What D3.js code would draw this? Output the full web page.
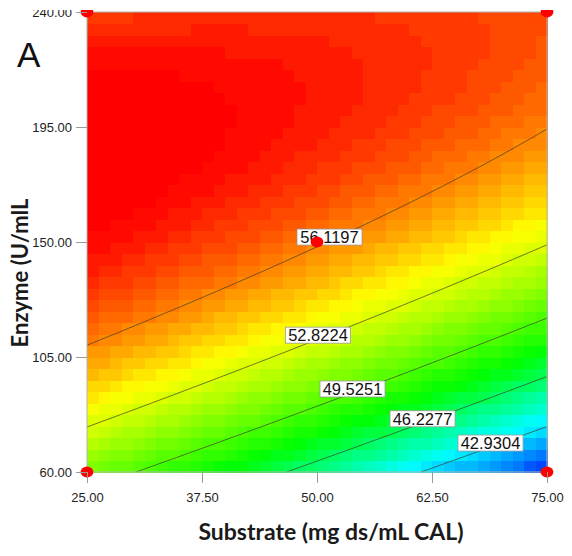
<!DOCTYPE html>
<html>
<head>
<meta charset="utf-8">
<script src="https://cdn.jsdelivr.net/npm/d3@7"></script>
<style>
  body { margin: 0; background: #fff; }
  svg { display: block; }
</style>
</head>
<body>
<svg id="chart" width="572" height="556"></svg>
<script>
// Factor ranges and axis ticks
const substrateRange = [25, 75];
const enzymeRange = [60, 240];
const substrateTicks = [25, 37.5, 50, 62.5, 75];
const enzymeTicks = [60, 105, 150, 195, 240];

// Fitted quadratic response surface, coded units (A = substrate, B = enzyme)
const modelTerms = ["Intercept", "A", "B", "AB", "A^2", "B^2"];
const modelCoefficients = [56.25, -2.84, 6.12, 2.64, -0.48, -4.62];

// Contour levels and the substrate value where each label sits
const contourLevels = [42.9304, 46.2277, 49.5251, 52.8224, 56.1197];
const contourLabelSubstrate = [68.86, 61.47, 53.86, 50.11, 51.36];

// Design points
const designSubstrate = [25, 25, 75, 75, 50];
const designEnzyme = [60, 240, 60, 240, 150];

// Colour ramp (fraction of response range -> colour), drawn in discrete steps
const rampStops = [0, 0.2, 0.42, 0.72, 0.97, 1];
const rampColors = ["#0030ff", "#00ffff", "#00ff00", "#ffff00", "#ff0000", "#ff0000"];
const rampSteps = 64;

const svg = d3.select("#chart");
const plot = { left: 87, right: 547, top: 12, bottom: 472 };

const x = d3.scaleLinear().domain(substrateRange).range([plot.left, plot.right]);
const y = d3.scaleLinear().domain(enzymeRange).range([plot.bottom, plot.top]);

const sMid = d3.mean(substrateRange), sHalf = (substrateRange[1] - substrateRange[0]) / 2;
const eMid = d3.mean(enzymeRange), eHalf = (enzymeRange[1] - enzymeRange[0]) / 2;

function predict(s, e) {
  const A = (s - sMid) / sHalf, B = (e - eMid) / eHalf;
  const t = [1, A, B, A * B, A * A, B * B];
  return d3.sum(t, (v, i) => v * modelCoefficients[i]);
}

// Fine sampling grid for contour tracing and range
const NS = 160;
const sNodes = d3.range(NS + 1).map(i => substrateRange[0] + (substrateRange[1] - substrateRange[0]) * i / NS);
const eNodes = d3.range(NS + 1).map(j => enzymeRange[0] + (enzymeRange[1] - enzymeRange[0]) * j / NS);
const nodeVals = sNodes.map(s => eNodes.map(e => predict(s, e)));
const allVals = nodeVals.flat();
const vMin = d3.min(allVals), vMax = d3.max(allVals);

const ramp = d3.scaleLinear().domain(rampStops).range(rampColors).interpolate(d3.interpolateRgb).clamp(true);
const colorOf = v => {
  const t = (v - vMin) / (vMax - vMin);
  const q = Math.min(rampSteps - 1, Math.floor(t * rampSteps));
  return ramp((q + 0.5) / rampSteps);
};

const root = svg.append("g");

// Coloured cells
const NC = 40;
const cells = [];
for (let i = 0; i < NC; i++) {
  for (let j = 0; j < NC; j++) {
    const s0 = substrateRange[0] + (substrateRange[1] - substrateRange[0]) * i / NC;
    const s1 = substrateRange[0] + (substrateRange[1] - substrateRange[0]) * (i + 1) / NC;
    const e0 = enzymeRange[0] + (enzymeRange[1] - enzymeRange[0]) * j / NC;
    const e1 = enzymeRange[0] + (enzymeRange[1] - enzymeRange[0]) * (j + 1) / NC;
    cells.push({ s0, s1, e0, e1, v: predict((s0 + s1) / 2, (e0 + e1) / 2) });
  }
}
root.append("g")
  .attr("shape-rendering", "crispEdges")
  .selectAll("rect")
  .data(cells)
  .join("rect")
  .attr("x", d => x(d.s0))
  .attr("y", d => y(d.e1))
  .attr("width", d => x(d.s1) - x(d.s0) + 0.6)
  .attr("height", d => y(d.e0) - y(d.e1) + 0.6)
  .attr("fill", d => colorOf(d.v));

// Marching squares: iso-line segments for one level
function isoSegments(level) {
  const segs = [];
  const lerp = (a, b, va, vb) => a + (b - a) * (level - va) / (vb - va);
  for (let i = 0; i < NS; i++) {
    for (let j = 0; j < NS; j++) {
      const c = [
        [sNodes[i], eNodes[j], nodeVals[i][j]],
        [sNodes[i + 1], eNodes[j], nodeVals[i + 1][j]],
        [sNodes[i + 1], eNodes[j + 1], nodeVals[i + 1][j + 1]],
        [sNodes[i], eNodes[j + 1], nodeVals[i][j + 1]]
      ];
      const pts = [];
      for (let k = 0; k < 4; k++) {
        const p = c[k], q = c[(k + 1) % 4];
        if ((p[2] - level) * (q[2] - level) < 0) {
          pts.push([lerp(p[0], q[0], p[2], q[2]), lerp(p[1], q[1], p[2], q[2])]);
        }
      }
      if (pts.length >= 2) segs.push([pts[0], pts[1]]);
      if (pts.length === 4) segs.push([pts[2], pts[3]]);
    }
  }
  return segs;
}

root.append("g")
  .selectAll("path")
  .data(contourLevels)
  .join("path")
  .attr("fill", "none")
  .attr("stroke", "#3c3c28")
  .attr("stroke-opacity", 0.7)
  .attr("stroke-width", 1)
  .attr("d", lv => isoSegments(lv).map(sg =>
    `M${x(sg[0][0]).toFixed(2)},${y(sg[0][1]).toFixed(2)}L${x(sg[1][0]).toFixed(2)},${y(sg[1][1]).toFixed(2)}`).join(""));

// Plot frame
root.append("rect")
  .attr("x", plot.left).attr("y", plot.top)
  .attr("width", plot.right - plot.left).attr("height", plot.bottom - plot.top)
  .attr("fill", "none").attr("stroke", "#b4b4b4").attr("stroke-width", 1);

// Contour labels, centred on their line
function enzymeOnLevel(s, level) {
  let lo = enzymeRange[0], hi = enzymeRange[1];
  const n = 400;
  let prev = predict(s, lo);
  for (let k = 1; k <= n; k++) {
    const e = enzymeRange[0] + (enzymeRange[1] - enzymeRange[0]) * k / n;
    const v = predict(s, e);
    if ((prev - level) * (v - level) <= 0) { lo = e - (enzymeRange[1] - enzymeRange[0]) / n; hi = e; break; }
    prev = v;
  }
  for (let k = 0; k < 40; k++) {
    const m = (lo + hi) / 2;
    if ((predict(s, lo) - level) * (predict(s, m) - level) <= 0) hi = m; else lo = m;
  }
  return (lo + hi) / 2;
}

const labels = contourLevels.map((lv, i) => ({
  level: lv,
  s: contourLabelSubstrate[i],
  e: enzymeOnLevel(contourLabelSubstrate[i], lv)
}));

const lab = root.append("g").selectAll("g").data(labels).join("g")
  .attr("transform", d => `translate(${x(d.s)},${y(d.e) - 4})`);
lab.append("rect")
  .attr("x", -32.5).attr("y", -8).attr("width", 65).attr("height", 16)
  .attr("fill", "#fff").attr("stroke", "#9a9a9a").attr("stroke-width", 0.8);
lab.append("text")
  .attr("text-anchor", "middle").attr("dy", "0.36em")
  .attr("font-family", "'Liberation Sans', Arial, sans-serif")
  .attr("font-size", 16.5).attr("fill", "#111")
  .text(d => d.level.toFixed(4));

// Design points
root.append("g").selectAll("ellipse")
  .data(designSubstrate.map((s, i) => [s, designEnzyme[i]]))
  .join("ellipse")
  .attr("cx", d => x(d[0])).attr("cy", d => y(d[1]))
  .attr("rx", 6.4).attr("ry", 5.4)
  .attr("fill", "#ff0000");

// Axes
const fmt = d3.format(".2f");
const xAxis = root.append("g")
  .attr("transform", `translate(0,${plot.bottom})`)
  .call(d3.axisBottom(x).tickValues(substrateTicks).tickFormat(fmt).tickSize(11).tickPadding(10));
const yAxis = root.append("g")
  .attr("transform", `translate(${plot.left},0)`)
  .call(d3.axisLeft(y).tickValues(enzymeTicks).tickFormat(fmt).tickSize(11).tickPadding(4));
[xAxis, yAxis].forEach(ax => {
  ax.select(".domain").remove();
  ax.selectAll(".tick line").attr("stroke", "#9a9a9a");
  ax.selectAll(".tick text")
    .attr("font-family", "'Liberation Sans', Arial, sans-serif")
    .attr("font-size", 13).attr("fill", "#1e1e1e");
});

// Axis titles
root.append("text")
  .attr("x", 331).attr("y", 540)
  .attr("text-anchor", "middle")
  .attr("font-family", "Lato, 'Open Sans', sans-serif").attr("font-weight", 700)
  .attr("font-size", 23).attr("fill", "#1a1a1a")
  .text("Substrate (mg ds/mL CAL)");
root.append("text")
  .attr("transform", "translate(28,273) rotate(-90)")
  .attr("text-anchor", "middle")
  .attr("font-family", "Lato, 'Open Sans', sans-serif").attr("font-weight", 700)
  .attr("font-size", 22).attr("fill", "#1a1a1a")
  .text("Enzyme (U/mlL");

// Panel letter
root.append("text")
  .attr("x", 17).attr("y", 67)
  .attr("font-family", "'Liberation Sans', Arial, sans-serif")
  .attr("font-size", 35).attr("fill", "#111")
  .text("A");

// Top margin of the figure is trimmed
svg.append("rect").attr("x", 0).attr("y", 0).attr("width", 572).attr("height", 10).attr("fill", "#fff");
</script>
</body>
</html>
